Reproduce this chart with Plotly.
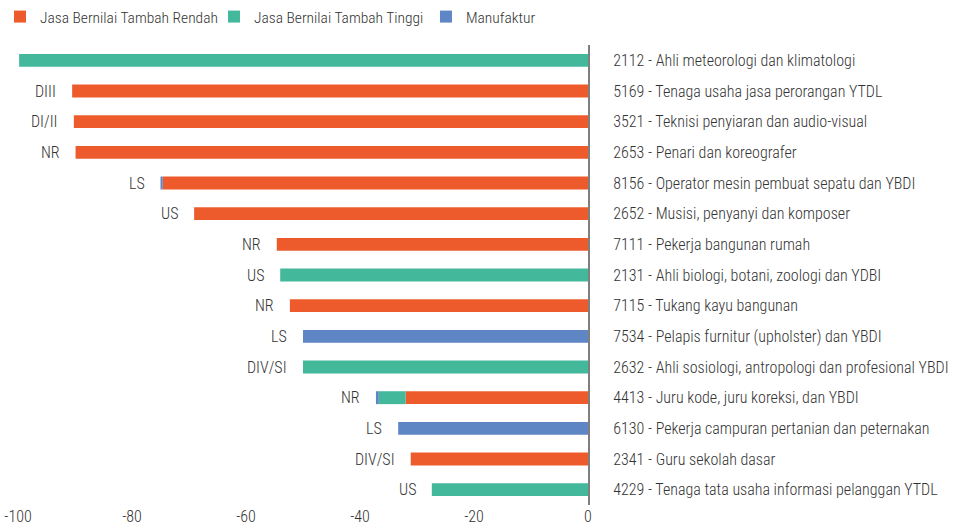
import plotly.graph_objects as go

categories = [
    "2112 - Ahli meteorologi dan klimatologi",
    "5169 - Tenaga usaha jasa perorangan YTDL",
    "3521 - Teknisi penyiaran dan audio-visual",
    "2653 - Penari dan koreografer",
    "8156 - Operator mesin pembuat sepatu dan YBDI",
    "2652 - Musisi, penyanyi dan komposer",
    "7111 - Pekerja bangunan rumah",
    "2131 - Ahli biologi, botani, zoologi dan YDBI",
    "7115 - Tukang kayu bangunan",
    "7534 - Pelapis furnitur (upholster) dan YBDI",
    "2632 - Ahli sosiologi, antropologi dan profesional YBDI",
    "4413 - Juru kode, juru koreksi, dan YBDI",
    "6130 - Pekerja campuran pertanian dan peternakan",
    "2341 - Guru sekolah dasar",
    "4229 - Tenaga tata usaha informasi pelanggan YTDL",
]
level_labels = ["", "DIII", "DI/II", "NR", "LS", "US", "NR", "US", "NR", "LS",
                "DIV/SI", "NR", "LS", "DIV/SI", "US"]

jasa_rendah = [0, -90.5, -90.2, -89.9, -74.6, -69.1, -54.6, 0, -52.3, 0, 0, -32.0, 0, -31.1, 0]
jasa_tinggi = [-99.8, 0, 0, 0, 0, 0, 0, -54.0, 0, 0, -50.0, -4.7, 0, 0, -27.4]
manufaktur = [0, 0, 0, 0, -0.4, 0, 0, 0, 0, -50.0, 0, -0.5, -33.3, 0, 0]

tick_vals = [-100, -80, -60, -40, -20, 0]
tick_text = ["-100", "-80", "-60", "-40", "-20", "0"]

series_names = ["Jasa Bernilai Tambah Rendah", "Jasa Bernilai Tambah Tinggi", "Manufaktur"]
series_values = [jasa_rendah, jasa_tinggi, manufaktur]
series_colors = ["#ED5B2D", "#44B89B", "#5E86C5"]
legend_ids = ["legend", "legend2", "legend3"]
legend_x = [0.0, 0.2236, 0.4451]

FONT = "Roboto Condensed, sans-serif"
TXT = "#333333"
FS = 16
W = 300

fig = go.Figure()
for name, vals, color, lg in zip(series_names, series_values, series_colors, legend_ids):
    fig.add_trace(go.Bar(
        y=categories, x=vals, name=name, orientation="h", legend=lg,
        marker=dict(color=color, line=dict(width=0)), width=0.42,
    ))

totals = [a + b + c for a, b, c in zip(jasa_rendah, jasa_tinggi, manufaktur)]
for cat, tot, lab in zip(categories, totals, level_labels):
    if lab:
        fig.add_annotation(x=tot, y=cat, text=lab, showarrow=False,
                           xanchor="right", xshift=-14,
                           font=dict(size=FS, color=TXT, family=FONT, weight=W))

legend_font = dict(size=15.5, color=TXT, family=FONT, weight=W)
layout_legends = {}
for lg, lx in zip(legend_ids, legend_x):
    layout_legends[lg] = dict(orientation="h", x=lx, y=1, xref="container", yref="container",
                              xanchor="left", yanchor="top", itemwidth=30,
                              font=legend_font, bgcolor="rgba(0,0,0,0)")

fig.update_layout(
    width=957, height=529,
    barmode="relative",
    plot_bgcolor="white", paper_bgcolor="white",
    margin=dict(l=18, r=369, t=45, b=24, autoexpand=False),
    font=dict(family=FONT, size=FS, color=TXT, weight=W),
    showlegend=True,
    xaxis=dict(range=[-100, 0], tickvals=tick_vals, ticktext=tick_text,
               showgrid=False, zeroline=False, showline=False, automargin=False,
               ticks="", ticklabeloverflow="allow",
               tickfont=dict(size=FS, color=TXT, family=FONT, weight=W)),
    yaxis=dict(side="right", autorange="reversed", showgrid=False, zeroline=False,
               showline=True, linecolor="#7F7F7F", linewidth=2, automargin=False,
               ticks="", ticklabelstandoff=20,
               tickfont=dict(size=FS, color=TXT, family=FONT, weight=W)),
    **layout_legends,
)

fig.write_html("out.html", config={"displayModeBar": False},
               post_script="document.body.style.margin='0';")
